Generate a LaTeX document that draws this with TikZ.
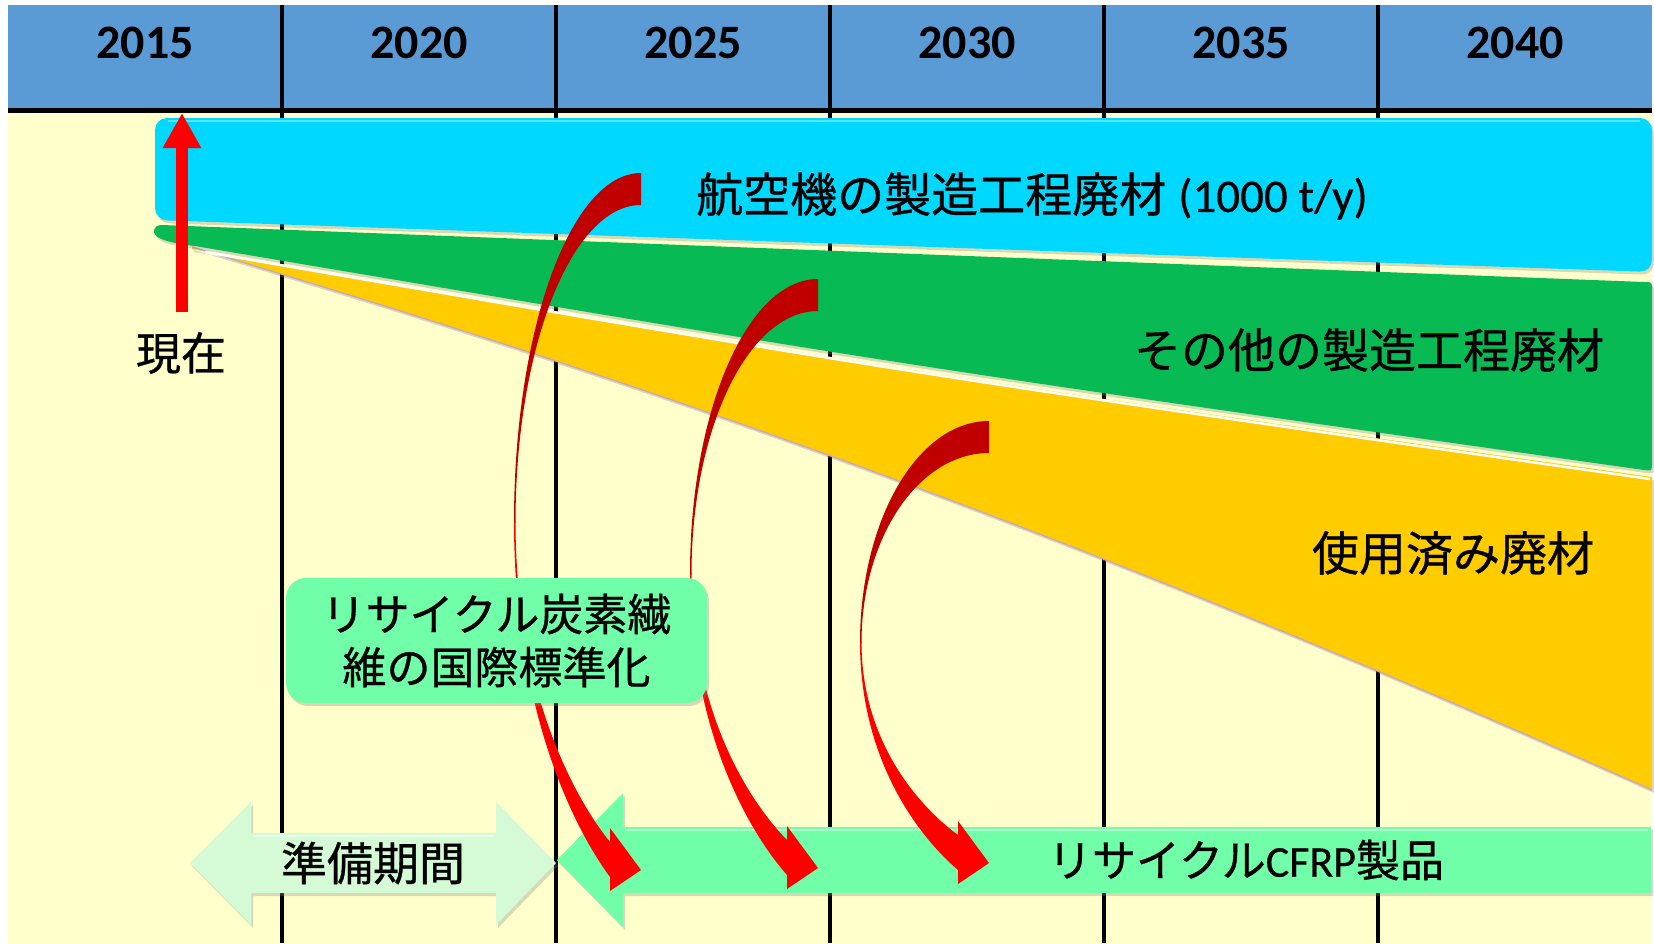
\documentclass[tikz,border=0pt]{standalone}
\usepackage{fontspec}
\setmainfont{Carlito}
\newfontfamily\jp[FakeBold=0.7]{Noto Sans CJK JP}
\newfontfamily\lat[FakeBold=0.4]{Carlito}
\usetikzlibrary{shadows,arrows.meta}
\definecolor{hdr}{RGB}{91,155,213}
\definecolor{bgyellow}{RGB}{255,255,204}
\definecolor{cyanbar}{RGB}{0,216,255}
\definecolor{greenbar}{RGB}{8,186,84}
\definecolor{yellowbar}{RGB}{255,204,0}
\definecolor{mint}{RGB}{112,255,168}
\definecolor{palemint}{RGB}{212,250,214}
\definecolor{dred}{RGB}{192,0,0}
\definecolor{bred}{RGB}{255,0,0}
\definecolor{lavender}{RGB}{200,165,200}

\newcommand{\redcurve}[4]{%
 \pgfmathsetmacro\rcYm{(#2+#4)/2}%
 \pgfmathsetmacro\rcRx{#1-#3}%
 \pgfmathsetmacro\rcRy{\rcYm-#2}%
 \pgfmathsetmacro\rcRyi{\rcYm-#2-32}%
 \pgfmathsetmacro\rcBx{#1-31}%
 \pgfmathsetmacro\rcDx{\rcBx-#3}%
 \pgfmathsetmacro\rcDyo{#4+7-\rcYm}%
 \pgfmathsetmacro\rcDyi{#4-28-\rcYm}%
 \fill[dred] (#1,#2) .. controls ({#1-0.552*\rcRx},#2) and (#3,{\rcYm-0.552*\rcRy}) .. (#3,{\rcYm+1}) -- ({#3+1.5},{\rcYm+1}) .. controls ({#3+1.5},{\rcYm-0.552*\rcRyi}) and ({#1-0.552*(\rcRx-1.5)},{#2+32}) .. (#1,{#2+32}) -- cycle;
 \fill[bred] (#3,\rcYm) .. controls (#3,{\rcYm+0.53*\rcDyo}) and ({#3+0.625*\rcDx},{\rcYm+0.863*\rcDyo}) .. (\rcBx,{#4+7}) -- (\rcBx,{#4+21}) -- (#1,#4) -- (\rcBx,{#4-42}) -- (\rcBx,{#4-28}) .. controls ({#3+1.5+0.625*(\rcDx-1.5)},{\rcYm+0.863*\rcDyi}) and ({#3+1.5},{\rcYm+0.53*\rcDyi}) .. ({#3+1.5},\rcYm) -- cycle;
}

\begin{document}
\begin{tikzpicture}[x=1pt,y=-1pt,
  gridline/.style={line width=3.2pt, black},
  year/.style={font=\fontsize{48}{56}\selectfont\bfseries, inner sep=0pt},
  bigjp/.style={font=\jp\fontsize{47}{54}\selectfont, inner sep=0pt},
  midjp/.style={font=\jp\fontsize{46}{54}\selectfont, inner sep=0pt},
  smalljp/.style={font=\jp\fontsize{44}{53}\selectfont, inner sep=0pt},
  shadowed/.style={drop shadow={opacity=0.3, shadow xshift=2pt, shadow yshift=-3pt}},
  nowarrow/.style={bred, line width=11.5pt, -{Triangle[length=35pt,width=36pt]}},
]
\useasboundingbox (0,0) rectangle (1654,943);
\fill[white] (0,0) rectangle (1654,943);
\fill[bgyellow] (8,110) rectangle (1652,943);
\fill[hdr] (8,5) rectangle (1652,110);
\foreach \x in {282,556,830,1104,1378} \draw[gridline] (\x,5) -- (\x,943);
\draw[line width=4.5pt] (8,110.5) -- (1652,110.5);

% year labels
\node[year] (y2015) at (145,43) {2015};
\node[year] (y2020) at (419,43) {2020};
\node[year] (y2025) at (693,43) {2025};
\node[year] (y2030) at (967,43) {2030};
\node[year] (y2035) at (1241,43) {2035};
\node[year] (y2040) at (1515,43) {2040};

% yellow band (used waste)
\fill[yellowbar, shadowed] (192,249) .. controls (900,371) .. (1652,477) -- (1652,790) .. controls (1000,500) and (600,370) .. (192,247) -- cycle;
\draw[lavender, line width=1.3pt] (192,247) .. controls (600,370) and (1000,500) .. (1652,790);
\draw[white, line width=2.5pt] (205,252) .. controls (900,372) .. (1650,479);

% green band (other manufacturing waste)
\fill[greenbar, shadowed] (162,225) -- (1644,282) .. controls (1652,282) .. (1652,290) -- (1652,463) .. controls (1652,471) .. (1644,470) .. controls (900,365) .. (195,246) .. controls (168,243) and (154,238) .. (154,232) .. controls (154,227) and (157,225) .. (162,225) -- cycle;

% cyan bar (aircraft manufacturing waste)
\fill[cyanbar, shadowed, rounded corners=12pt] (155,118) -- (1652,118) -- (1652,272) -- (155,220) -- cycle;
\draw[white, opacity=0.35, line width=2.5pt] (168,121) -- (1640,121);

% labels in bands
\node[bigjp] (aero) at (1032,196) {航空機の製造工程廃材\hspace{12pt}{\lat (1000 t/y)}};
\node[bigjp] (other) at (1369,350) {その他の製造工程廃材};
\node[bigjp] (used) at (1453,553) {使用済み廃材};

% present arrow
\coordinate (nowbase) at (182,312);
\coordinate (nowtip) at (182,113);
\draw[nowarrow] (nowbase) -- (nowtip);
\node[font=\jp\fontsize{45}{52}\selectfont, inner sep=0pt] (now) at (181,353) {現在};

% preparation period double arrow
\fill[palemint, shadowed] (190,863) -- (251,802) -- (251,833) -- (496,833) -- (496,802) -- (556,863) -- (496,925) -- (496,893) -- (251,893) -- (251,925) -- cycle;
\draw[white, opacity=0.5, line width=2pt] (253,836) -- (494,836);
\node[midjp] (prep) at (373,863) {準備期間};

% recycled CFRP products arrow
\fill[mint, shadowed] (557,860) -- (623,793) -- (623,827) -- (1651,827) -- (1651,893) -- (623,893) -- (623,927) -- cycle;
\draw[white, opacity=0.45, line width=2pt] (625,830) -- (1648,830);
\node[smalljp] (cfrp) at (1246,860) {リサイクル{\lat CFRP}製品};

% red curved arrows
\redcurve{641}{173}{514}{870}
\redcurve{818}{279}{690}{868}
\redcurve{989}{421}{860}{863}

% standardisation box
\node[smalljp, fill=mint, shadowed, rounded corners=20pt, minimum width=421pt, minimum height=125pt, align=center] (std) at (496.5,640.5) {リサイクル炭素繊\\維の国際標準化};
\end{tikzpicture}
\end{document}
